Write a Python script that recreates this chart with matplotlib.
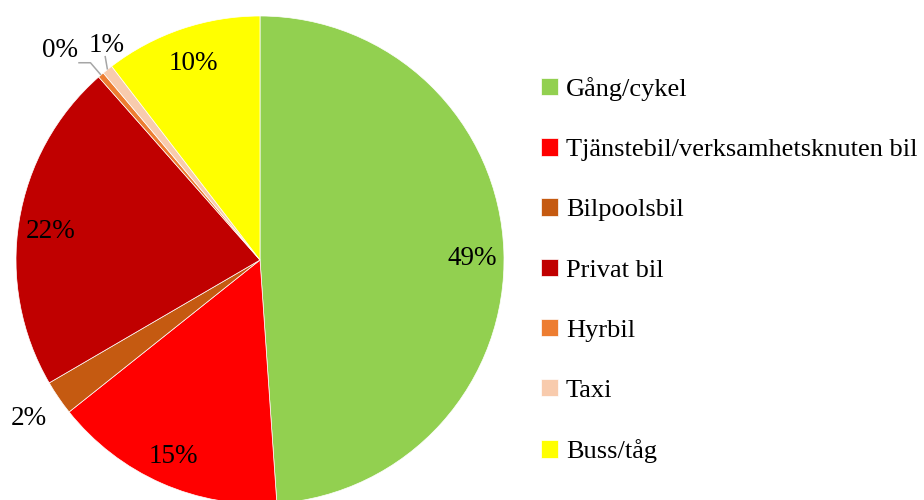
import numpy as np
import matplotlib
matplotlib.use("Agg")
import matplotlib.pyplot as plt

categories = ["Gång/cykel", "Tjänstebil/verksamhetsknuten bil", "Bilpoolsbil",
              "Privat bil", "Hyrbil", "Taxi", "Buss/tåg"]
values = [48.9, 15.4, 2.3, 21.9, 0.4, 0.7, 10.4]
colors = ["#92D050", "#FF0000", "#C55A11", "#C00000", "#ED7D31", "#F8CBAD", "#FFFF00"]
# label placement: radial distance (pie radii) and angular offset (deg, ccw)
label_r = [0.87, 0.88, 1.15, 0.867, 1.185, 1.08, 0.85]
label_dth = [-1.7, 0, 0, 1.4, 3.0, -3.0, 0]

plt.rcParams['font.family'] = ['Liberation Serif', 'DejaVu Serif']

W, H = 924, 500
fig = plt.figure(figsize=(W / 100, H / 100), dpi=100)
cx, cy, R = 260, 260, 244
ax = fig.add_axes([(cx - R) / W, (H - cy - R) / H, 2 * R / W, 2 * R / H])
wedges, _ = ax.pie(values, colors=colors, startangle=90, counterclock=False,
                   radius=1.0, wedgeprops=dict(edgecolor="white", linewidth=0.5))
ax.set_xlim(-1, 1)
ax.set_ylim(-1, 1)
ax.set_aspect('equal')
ax.axis('off')

fs = 19.5
for i, w in enumerate(wedges):
    th = np.deg2rad((w.theta1 + w.theta2) / 2 + label_dth[i])
    r = label_r[i]
    x, y = r * np.cos(th), r * np.sin(th)
    ax.text(x, y, f"{values[i]:.0f}%", ha='center', va='center', fontsize=fs,
            color='black', clip_on=False)

# leader lines for the two tiny slices
lc = "#A6A6A6"
w = wedges[4]
th = np.deg2rad((w.theta1 + w.theta2) / 2)
p0 = (np.cos(th), np.sin(th))
p1 = (1.066 * np.cos(th), 1.066 * np.sin(th))
p2 = (p1[0] - 0.05, p1[1])
ax.plot([p0[0], p1[0], p2[0]], [p0[1], p1[1], p2[1]], color=lc, lw=1.1,
        clip_on=False, solid_capstyle='butt')
w = wedges[5]
th = np.deg2rad((w.theta1 + w.theta2) / 2)
th2 = th - np.deg2rad(1.5)
ax.plot([np.cos(th), 1.05 * np.cos(th2)], [np.sin(th), 1.05 * np.sin(th2)],
        color=lc, lw=1.1, clip_on=False, solid_capstyle='butt')

lfs = 19
leg = fig.legend(wedges, categories, loc='upper left',
                 bbox_to_anchor=(541 / W, 1 - 77 / H), frameon=False,
                 fontsize=lfs, handlelength=0.64, handleheight=0.64,
                 handletextpad=0.3, labelspacing=1.41, borderaxespad=0,
                 borderpad=0)

fig.savefig("out.png", dpi=100)
